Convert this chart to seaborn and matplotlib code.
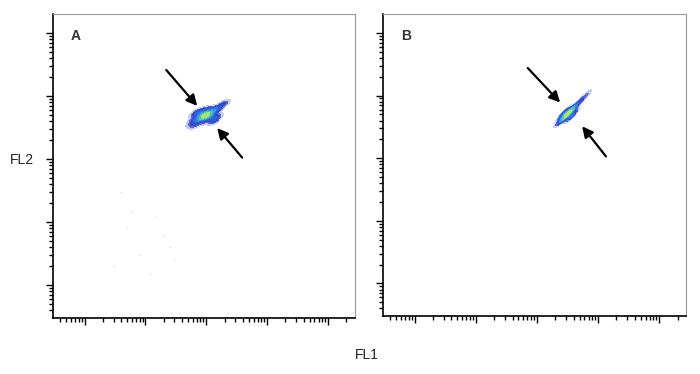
import numpy as np
import matplotlib
matplotlib.use("Agg")
import matplotlib.pyplot as plt
from matplotlib.colors import LinearSegmentedColormap
from matplotlib.ticker import FixedLocator, NullFormatter
import seaborn as sns

# events (channel values, log scale)
fl1_a = [100, 89, 112, 95, 105, 100, 100, 71, 79, 126, 141, 83, 120, 76, 132,
         56, 63, 178, 209, 158, 89, 112, 60,
         71, 126, 89, 141, 63, 158]
fl2_a = [490, 457, 525, 501, 479, 447, 537, 398, 437, 575, 631, 525, 437, 479, 501,
         355, 331, 708, 794, 603, 380, 631, 417,
         562, 380, 603, 417, 501, 479]

fl1_b = [324, 324, 324, 295, 355, 282, 380, 251, 229, 417, 479, 562, 661, 316, 339, 269, 398,
         282, 372, 251, 417, 300, 350, 290, 360]
fl2_b = [513, 513, 513, 468, 550, 437, 603, 398, 372, 676, 759, 891, 1047, 457, 575, 447, 617,
         525, 479, 457, 550, 540, 470, 560, 450]

# faint background events in panel A
bg_fl1_a = [3, 5, 8, 12, 20, 30, 6, 15, 25, 4]
bg_fl2_a = [2, 8, 3, 1.5, 6, 2.5, 15, 12, 4, 30]

# arrows: (tail, head)
arrows_a = [((22, 2570), (71, 692)), ((389, 105), (151, 309))]
arrows_b = [((71, 2754), (240, 776)), ((1349, 107), (550, 324))]

panels = ["A", "B"]

major_ticks = [1, 10, 100, 1000, 10000]
minor_ticks = [k * m for m in [0.1, 1, 10, 100, 1000, 10000] for k in range(2, 10)]

sns.set_style("white")
plt.rcParams['font.family'] = ['Liberation Sans', 'DejaVu Sans']

cmap = LinearSegmentedColormap.from_list(
    "flow", ["#ffffff", "#3040c8", "#2f6fe0", "#38b8e0", "#6fd890", "#e8f040"])

fig = plt.figure(figsize=(7, 3.74), dpi=100)
ax_a = fig.add_axes([0.0757, 0.150, 0.431, 0.813])
ax_b = fig.add_axes([0.547, 0.155, 0.433, 0.807])

data = [(ax_a, fl1_a, fl2_a, arrows_a, 0.75), (ax_b, fl1_b, fl2_b, arrows_b, 1.0)]

for (ax, x, y, arr, bw), name in zip(data, panels):
    sns.kdeplot(x=x, y=y, ax=ax, fill=True, cmap=cmap, levels=10, thresh=0.06,
                bw_adjust=bw, log_scale=(True, True))
    ax.set_xlim(10 ** -0.52, 10 ** 4.44)
    ax.set_ylim(10 ** -0.52, 10 ** 4.30)
    for tail, head in arr:
        ax.annotate("", xy=head, xytext=tail,
                    arrowprops=dict(arrowstyle="-|>", color="black", lw=1.6,
                                    mutation_scale=16, shrinkA=0, shrinkB=0))
    ax.text(0.06, 0.95, name, transform=ax.transAxes, fontsize=10,
            fontweight="bold", color="#333333", va="top")
    ax.set_xlabel("")
    ax.set_ylabel("")
    for side in ["left", "bottom"]:
        ax.spines[side].set_color("black")
        ax.spines[side].set_linewidth(1.2)
    for side in ["top", "right"]:
        ax.spines[side].set_color("#999999")
        ax.spines[side].set_linewidth(0.8)

ax_a.scatter(bg_fl1_a, bg_fl2_a, s=1.5, color="#dddddd", linewidths=0)

# log ticks, no labels
for ax in [ax_a, ax_b]:
    for axis in [ax.xaxis, ax.yaxis]:
        axis.set_major_locator(FixedLocator(major_ticks))
        axis.set_minor_locator(FixedLocator(minor_ticks))
        axis.set_major_formatter(NullFormatter())
        axis.set_minor_formatter(NullFormatter())
    ax.tick_params(axis="x", which="major", direction="out", length=5, width=1,
                   color="black", bottom=True)
    ax.tick_params(axis="y", which="major", direction="out", length=5, width=1,
                   color="black", left=True)
    ax.tick_params(axis="x", which="minor", direction="out", length=3, width=1,
                   color="black", bottom=True)
    ax.tick_params(axis="y", which="minor", direction="out", length=3, width=1,
                   color="black", left=True)

fig.text(0.031, 0.572, "FL2", fontsize=10, ha="center", va="center", color="#222222")
fig.text(0.524, 0.051, "FL1", fontsize=10, ha="center", va="center", color="#222222")

fig.savefig("out.png", dpi=100)
